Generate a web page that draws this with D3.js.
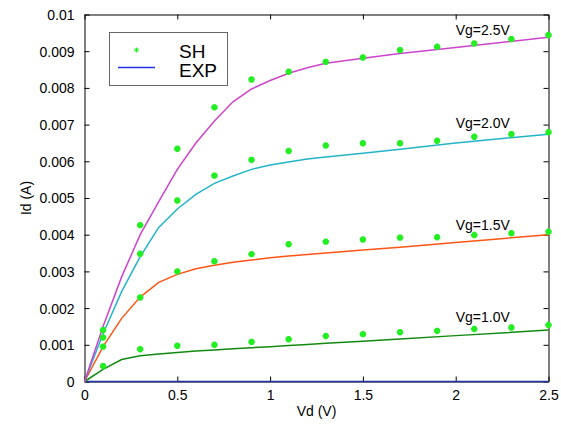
<!DOCTYPE html>
<html>
<head>
<meta charset="utf-8">
<script src="https://cdn.jsdelivr.net/npm/d3@7"></script>
<style>
  body { margin: 0; background: #fff; }
  text { font-family: "Liberation Sans", Arial, sans-serif; }
</style>
</head>
<body>
<script>
// EXP curves (lines)
const lineVd = [0, 0.1, 0.2, 0.3, 0.4, 0.5, 0.6, 0.7, 0.8, 0.9, 1.0, 1.1, 1.2, 1.3, 1.5, 1.7, 2.0, 2.5]
const exp00 = [0, 0, 0, 0, 0, 0, 0, 0, 0, 0, 0, 0, 0, 0, 0, 0, 0, 0]
const exp10 = [0, 0.00033, 0.0006, 0.0007, 0.00075, 0.00079, 0.00083, 0.00086, 0.00089, 0.00092, 0.00095, 0.00098, 0.00101, 0.00104, 0.0011, 0.00116, 0.00125, 0.0014]
const exp15 = [0, 0.00095, 0.00172, 0.0023, 0.0027, 0.00292, 0.00307, 0.00317, 0.00325, 0.00331, 0.00337, 0.00342, 0.00346, 0.0035, 0.00358, 0.00366, 0.00379, 0.0040]
const exp20 = [0, 0.0013, 0.00245, 0.0034, 0.0042, 0.0047, 0.0051, 0.0054, 0.0056, 0.00578, 0.0059, 0.00598, 0.00606, 0.00612, 0.00622, 0.00633, 0.0065, 0.00674]
const exp25 = [0, 0.0015, 0.00285, 0.0040, 0.0049, 0.00578, 0.0065, 0.0071, 0.00762, 0.00797, 0.0082, 0.0084, 0.00855, 0.00867, 0.00881, 0.00894, 0.0091, 0.00938]

// SH points (markers)
const shVd = [0.1, 0.3, 0.5, 0.7, 0.9, 1.1, 1.3, 1.5, 1.7, 1.9, 2.1, 2.3, 2.5]
const sh10 = [0.00042, 0.00088, 0.000975, 0.001, 0.00108, 0.00115, 0.00124, 0.00129, 0.00134, 0.00138, 0.00143, 0.00147, 0.00154]
const sh15 = [0.00095, 0.00229, 0.003, 0.003275, 0.00347, 0.00374, 0.00381, 0.00387, 0.00392, 0.00393, 0.00399, 0.00404, 0.00408]
const sh20 = [0.0012, 0.00348, 0.00493, 0.00561, 0.00604, 0.00628, 0.00643, 0.00649, 0.00649, 0.00656, 0.00667, 0.00674, 0.00679]
const sh25 = [0.0014, 0.00426, 0.00634, 0.00747, 0.00823, 0.00844, 0.00871, 0.00883, 0.00903, 0.00912, 0.00921, 0.00933, 0.00944]

const curveLabels = ['Vg=1.0V', 'Vg=1.5V', 'Vg=2.0V', 'Vg=2.5V']
const labelX = [2.0, 2.0, 2.0, 2.0]
const labelY = [0.00163, 0.00413, 0.0069, 0.00944]

const xTicks = [0, 0.5, 1, 1.5, 2, 2.5]
const yTicks = [0, 0.001, 0.002, 0.003, 0.004, 0.005, 0.006, 0.007, 0.008, 0.009, 0.01]

const W = 561, H = 425
const margin = { top: 14.5, right: 12.5, bottom: 43.5, left: 84.5 }
const width = W - margin.left - margin.right
const height = H - margin.top - margin.bottom

const x = d3.scaleLinear().domain([0, 2.5]).range([0, width])
const y = d3.scaleLinear().domain([0, 0.01]).range([height, 0])

const svg = d3.select('body').append('svg')
  .attr('width', W)
  .attr('height', H)

const g = svg.append('g')
  .attr('transform', 'translate(' + margin.left + ',' + margin.top + ')')

const fmtY = d => d === 0 ? '0' : String(+d.toFixed(3))
const fmtX = d => String(d)

// axes, ticks inside like matlab
const styleAxis = sel => {
  sel.selectAll('path').attr('stroke', '#000')
  sel.selectAll('line').attr('stroke', '#000')
  sel.selectAll('text').attr('font-size', 14).attr('fill', '#000')
}

g.append('g').attr('transform', 'translate(0,' + height + ')')
  .call(d3.axisBottom(x).tickValues(xTicks).tickFormat(fmtX).tickSizeInner(-5).tickSizeOuter(0).tickPadding(9))
  .call(styleAxis)
g.append('g')
  .call(d3.axisTop(x).tickValues(xTicks).tickFormat('').tickSizeInner(-5).tickSizeOuter(0))
  .call(styleAxis)
g.append('g')
  .call(d3.axisLeft(y).tickValues(yTicks).tickFormat(fmtY).tickSizeInner(-5).tickSizeOuter(0).tickPadding(10))
  .call(styleAxis)
  .selectAll('text').attr('dy', '0.35em')
g.append('g').attr('transform', 'translate(' + width + ',0)')
  .call(d3.axisRight(y).tickValues(yTicks).tickFormat('').tickSizeInner(-5).tickSizeOuter(0))
  .call(styleAxis)

// lines
const series = [
  { vals: exp00, color: '#2233aa' },
  { vals: exp10, color: '#128a12' },
  { vals: exp15, color: '#ff5515' },
  { vals: exp20, color: '#22b4c8' },
  { vals: exp25, color: '#cc44cc' }
]
const line = d3.line().x(d => x(d[0])).y(d => y(d[1]))
series.forEach(s => {
  g.append('path')
    .datum(lineVd.map((v, i) => [v, s.vals[i]]))
    .attr('d', line)
    .attr('fill', 'none')
    .attr('stroke', s.color)
    .attr('stroke-width', 1.5)
})

// asterisk markers
const star = r => 'M' + (-r) + ',0L' + r + ',0M0,' + (-r) + 'L0,' + r +
  'M' + (-r * 0.7) + ',' + (-r * 0.7) + 'L' + (r * 0.7) + ',' + (r * 0.7) +
  'M' + (-r * 0.7) + ',' + (r * 0.7) + 'L' + (r * 0.7) + ',' + (-r * 0.7)

const shAll = [sh10, sh15, sh20, sh25]
shAll.forEach(vals => {
  g.selectAll(null)
    .data(shVd.map((v, i) => [v, vals[i]]))
    .enter().append('path')
      .attr('transform', d => 'translate(' + x(d[0]) + ',' + y(d[1]) + ')')
      .attr('d', star(3.2))
      .attr('stroke', '#22ee22')
      .attr('stroke-width', 2.2)
})

// curve labels
g.selectAll('.vg')
  .data(curveLabels)
  .enter().append('text')
    .attr('class', 'vg')
    .attr('x', (d, i) => x(labelX[i]))
    .attr('y', (d, i) => y(labelY[i]))
    .attr('font-size', 14)
    .text(d => d)

// axis titles
svg.append('text')
  .attr('x', margin.left + width / 2)
  .attr('y', 416)
  .attr('text-anchor', 'middle')
  .attr('font-size', 14)
  .text('Vd (V)')
svg.append('text')
  .attr('transform', 'translate(31,' + (margin.top + height / 2) + ') rotate(-90)')
  .attr('text-anchor', 'middle')
  .attr('font-size', 14)
  .text('Id (A)')

// legend
const leg = svg.append('g')
leg.append('rect')
  .attr('x', 109.5).attr('y', 32.5)
  .attr('width', 118).attr('height', 53)
  .attr('fill', '#fff')
  .attr('stroke', '#666')
  .attr('stroke-width', 1)
leg.append('path')
  .attr('transform', 'translate(136.5,50)')
  .attr('d', star(2.5))
  .attr('stroke', '#22ee22')
  .attr('stroke-width', 1)
leg.append('line')
  .attr('x1', 118).attr('x2', 155)
  .attr('y1', 67.5).attr('y2', 67.5)
  .attr('stroke', '#2233ee')
  .attr('stroke-width', 1.5)
leg.append('text').attr('x', 179).attr('y', 57.5).attr('font-size', 19).text('SH')
leg.append('text').attr('x', 179).attr('y', 76.5).attr('font-size', 19).text('EXP')
</script>
</body>
</html>
